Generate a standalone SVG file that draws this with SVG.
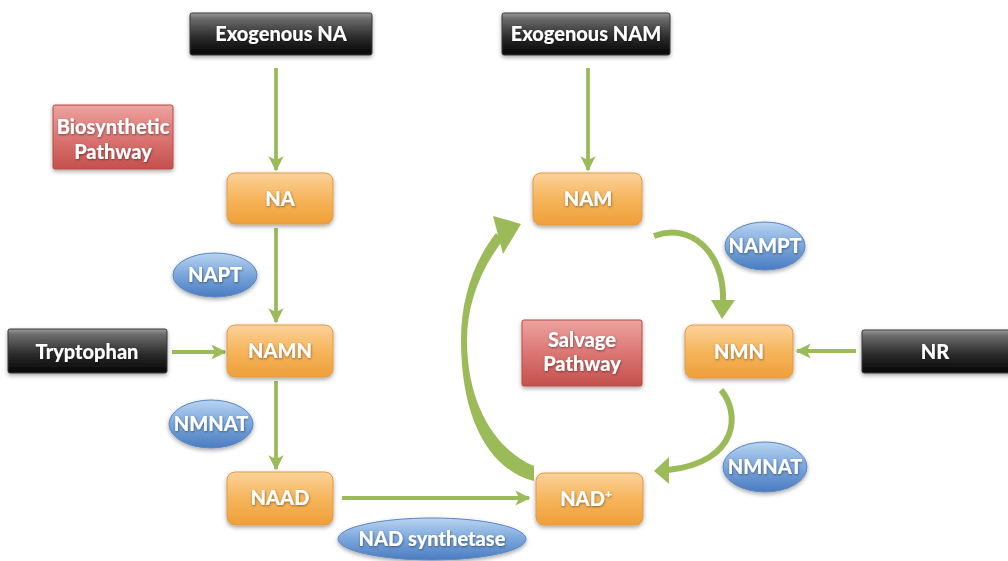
<svg xmlns="http://www.w3.org/2000/svg" width="1008" height="561" viewBox="0 0 1008 561">
<defs>
<linearGradient id="gBlack" x1="0" y1="0" x2="0" y2="1">
<stop offset="0" stop-color="#9a9a9a"/><stop offset="0.12" stop-color="#6e6e6e"/><stop offset="0.55" stop-color="#2e2e2e"/><stop offset="1" stop-color="#050505"/>
</linearGradient>
<linearGradient id="gOrange" x1="0" y1="0" x2="0" y2="1">
<stop offset="0" stop-color="#fbd29a"/><stop offset="0.5" stop-color="#f6b55b"/><stop offset="1" stop-color="#ef9f3a"/>
</linearGradient>
<linearGradient id="gRed" x1="0" y1="0" x2="0" y2="1">
<stop offset="0" stop-color="#eda3a0"/><stop offset="0.5" stop-color="#db7673"/><stop offset="1" stop-color="#c4504d"/>
</linearGradient>
<linearGradient id="gBlue" x1="0" y1="0" x2="0" y2="1">
<stop offset="0" stop-color="#b9d4f1"/><stop offset="0.5" stop-color="#7aa6dc"/><stop offset="1" stop-color="#4a7cc0"/>
</linearGradient>
<filter id="sh" x="-20%" y="-20%" width="140%" height="150%">
<feDropShadow dx="0" dy="2" stdDeviation="2" flood-color="#000" flood-opacity="0.35"/>
</filter>
<filter id="tsh" x="-10%" y="-20%" width="120%" height="150%">
<feDropShadow dx="0.5" dy="1" stdDeviation="0.8" flood-color="#000" flood-opacity="0.45"/>
</filter>
<marker id="ah" viewBox="0 0 10 10" refX="9" refY="5" markerWidth="4" markerHeight="4" orient="auto" markerUnits="strokeWidth">
<path d="M0,0 L10,5 L0,10 L2.5,5 Z" fill="#9bbb59"/>
</marker>
<style>
.blk{fill:url(#gBlack);stroke:#3a3a3a;stroke-width:1;filter:url(#sh)}
.org{fill:url(#gOrange);stroke:#e19b45;stroke-width:1;filter:url(#sh)}
.red{fill:url(#gRed);stroke:#b84a47;stroke-width:1;filter:url(#sh)}
.blu{fill:url(#gBlue);stroke:#5a86c2;stroke-width:1;filter:url(#sh)}
.t{font-family:Lato,"Open Sans","Liberation Sans",sans-serif;font-weight:900;fill:#fff;text-anchor:middle;font-size:20px;filter:url(#tsh)}
.ln{fill:none;stroke:#9bbb59;stroke-width:3.8;marker-end:url(#ah)}
.cv{fill:none;stroke:#9bbb59;stroke-width:6}
.fl{fill:#9bbb59}
</style>
</defs>
<rect width="1008" height="561" fill="#fff"/>

<g id="connectors">
<line class="ln" x1="276" y1="68" x2="276" y2="170"/>
<line class="ln" x1="588" y1="68" x2="588" y2="170"/>
<line class="ln" x1="276" y1="228" x2="276" y2="322"/>
<line class="ln" x1="276" y1="381" x2="276" y2="469"/>
<line class="ln" x1="172" y1="352" x2="225" y2="352"/>
<line class="ln" x1="856" y1="351" x2="797" y2="351"/>
<line class="ln" x1="342" y1="498" x2="529" y2="498"/>
<path class="fl" d="M496,233 C473,262 461,300 461,340 C461,420 490,470 534,481 L534,466 C500,452 467,410 467,340 C467,305 480,270 503,240 Z"/>
<path class="fl" d="M493,216 L521,224 L503,254 Z"/>
<path class="cv" d="M654,236 C690,222 725,252 723,302"/>
<path class="fl" d="M711,300 L735,300 L722,319 Z"/>
<path class="cv" d="M721,390 C740,412 740,462 668,470"/>
<path class="fl" d="M669,457 L669,484 L654,471 Z"/>
</g>

<g id="exogenous-na"><rect class="blk" x="190" y="13" width="182" height="42" rx="2"/><text class="t" x="281" y="41">Exogenous NA</text></g>
<g id="exogenous-nam"><rect class="blk" x="502" y="13" width="168" height="42" rx="2"/><text class="t" x="586" y="41">Exogenous NAM</text></g>
<g id="biosynthetic-pathway"><rect class="red" x="53" y="105" width="120" height="64" rx="2"/><text class="t" x="113" y="134">Biosynthetic</text><text class="t" x="113" y="159">Pathway</text></g>
<g id="na"><rect class="org" x="227" y="173" width="106" height="51" rx="8"/><text class="t" x="280" y="206">NA</text></g>
<g id="napt"><ellipse class="blu" cx="215" cy="275" rx="42" ry="22"/><text class="t" x="215" y="282">NAPT</text></g>
<g id="tryptophan"><rect class="blk" x="8" y="329" width="159" height="44" rx="2"/><text class="t" x="87" y="359">Tryptophan</text></g>
<g id="namn"><rect class="org" x="227" y="325" width="106" height="52" rx="8"/><text class="t" x="280" y="358">NAMN</text></g>
<g id="nmnat-left"><ellipse class="blu" cx="211" cy="424" rx="42" ry="24"/><text class="t" x="211" y="431">NMNAT</text></g>
<g id="naad"><rect class="org" x="227" y="472" width="106" height="53" rx="8"/><text class="t" x="280" y="505">NAAD</text></g>
<g id="nad-synthetase"><ellipse class="blu" cx="432" cy="539" rx="94" ry="21"/><text class="t" x="432" y="546">NAD synthetase</text></g>
<g id="nad"><rect class="org" x="536" y="473" width="107" height="52" rx="8"/><text class="t" x="586" y="506">NAD<tspan font-size="12" dy="-8">+</tspan></text></g>
<g id="nam"><rect class="org" x="533" y="173" width="109" height="52" rx="8"/><text class="t" x="588" y="206">NAM</text></g>
<g id="nampt"><ellipse class="blu" cx="765" cy="246" rx="40" ry="24"/><text class="t" x="765" y="253">NAMPT</text></g>
<g id="salvage-pathway"><rect class="red" x="522" y="320" width="120" height="66" rx="2"/><text class="t" x="582" y="347">Salvage</text><text class="t" x="582" y="371">Pathway</text></g>
<g id="nmn"><rect class="org" x="685" y="325" width="108" height="53" rx="8"/><text class="t" x="739" y="359">NMN</text></g>
<g id="nr"><rect class="blk" x="862" y="330" width="160" height="43" rx="2"/><text class="t" x="935" y="359">NR</text></g>
<g id="nmnat-right"><ellipse class="blu" cx="765" cy="467" rx="42" ry="25"/><text class="t" x="765" y="474">NMNAT</text></g>
</svg>
